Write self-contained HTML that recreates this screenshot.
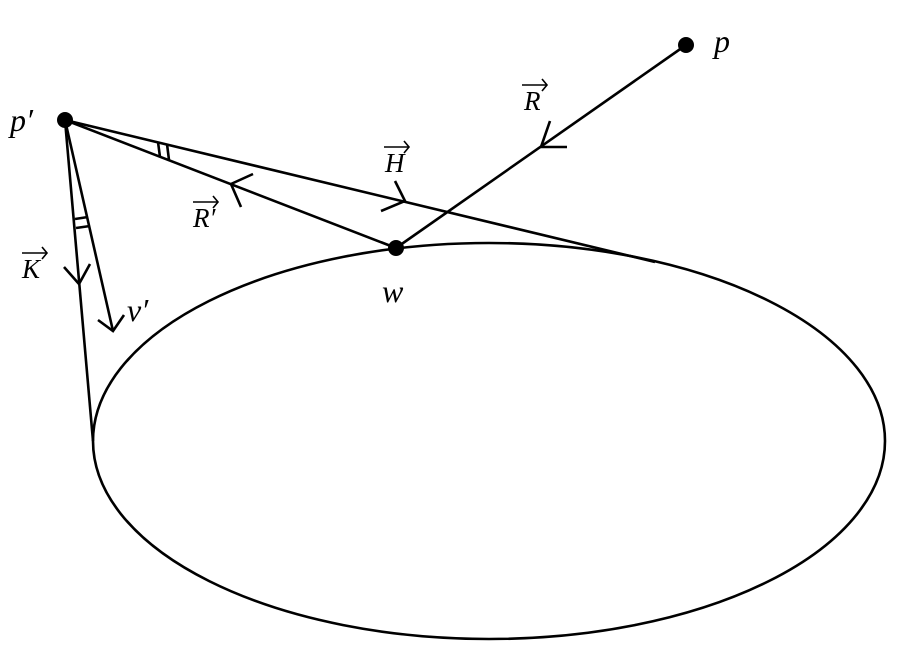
<!DOCTYPE html>
<html><head><meta charset="utf-8"><style>
html,body{margin:0;padding:0;background:#fff;width:908px;height:652px;overflow:hidden}
text{font-family:"Liberation Serif",serif;font-style:italic;fill:#000}
</style></head><body>
<svg width="908" height="652" viewBox="0 0 908 652" xmlns="http://www.w3.org/2000/svg">
<g stroke="#000" stroke-width="2.6" fill="none" stroke-linecap="butt">
<ellipse cx="489" cy="441" rx="396" ry="198"/>
<line x1="65" y1="120" x2="655" y2="262"/>
<line x1="65" y1="120" x2="396" y2="248"/>
<line x1="396" y1="248" x2="686" y2="45"/>
<line x1="65" y1="120" x2="93" y2="441"/>
<line x1="65" y1="120" x2="113" y2="331"/>
<polyline points="550,121 541,147 567,147"/>
<polyline points="395,181 405,201 381,211"/>
<polyline points="253,174 231,184 241,207"/>
<polyline points="64,267 79,284 90,264"/>
<polyline points="98,320 113,331 124,315"/>
<line x1="158" y1="142" x2="160" y2="157"/>
<line x1="167" y1="144" x2="169" y2="160"/>
<line x1="75" y1="219" x2="88" y2="217"/>
<line x1="76" y1="228" x2="90" y2="226"/>
</g>
<g stroke="#000" stroke-width="1.6" fill="none">
<line x1="522" y1="85" x2="547" y2="85"/><polyline points="542,79 547,85 542,91"/>
<line x1="384" y1="147" x2="409" y2="147"/><polyline points="404,141 409,147 404,153"/>
<line x1="193" y1="202" x2="218" y2="202"/><polyline points="213,196 218,202 213,208"/>
<line x1="22" y1="253" x2="47" y2="253"/><polyline points="42,247 47,253 42,259"/>
</g>
<circle cx="65" cy="120" r="8" fill="#000"/>
<circle cx="686" cy="45" r="8" fill="#000"/>
<circle cx="396" cy="248" r="8" fill="#000"/>
<text x="10" y="131" font-size="32">p′</text>
<text x="714" y="52" font-size="32">p</text>
<text x="382" y="302" font-size="32">w</text>
<text x="127" y="321" font-size="32">v′</text>
<g font-size="27">
<text x="524" y="110">R</text>
<text x="385" y="172">H</text>
<text x="193" y="227">R′</text>
<text x="22" y="278">K</text>
</g>
</svg>
</body></html>
